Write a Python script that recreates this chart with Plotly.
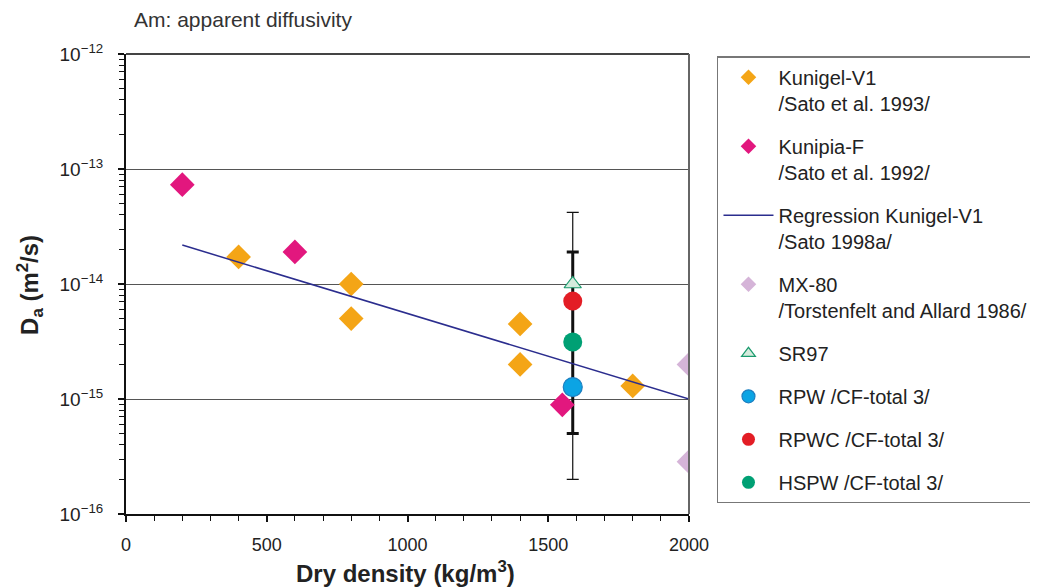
import plotly.graph_objects as go

# ---- data ----
kunigel_x = [400, 800, 800, 1400, 1400, 1800]
kunigel_y = [1.72e-14, 1.0e-14, 5.0e-15, 4.5e-15, 2.0e-15, 1.3e-15]

kunipia_x = [200, 600, 1550]
kunipia_y = [7.3e-14, 1.9e-14, 8.9e-16]

regr_x = [200, 2000]
regr_y = [2.18e-14, 1.0e-15]

mx80_x = [2000, 2000]
mx80_y = [2.0e-15, 2.85e-16]

sr97_x = [1587]
sr97_y = [1.0e-14]
rpw_y = [1.27e-15]
rpwc_y = [7.1e-15]
hspw_y = [3.13e-15]

# error ranges at the SR97 density
outer_hi = [4.2e-14]
outer_lo = [2.0e-16]
inner_hi = [1.9e-14]
inner_lo = [5.0e-16]

ytick_vals = [1e-16, 1e-15, 1e-14, 1e-13, 1e-12]
ytick_text = ["10<sup>\u221216</sup>", "10<sup>\u221215</sup>", "10<sup>\u221214</sup>",
              "10<sup>\u221213</sup>", "10<sup>\u221212</sup>"]
xtick_vals = [0, 500, 1000, 1500, 2000]

FONT = "Liberation Sans, Arial, sans-serif"

# series: (name, x, y, symbol, plot size, colour, line colour)
series = [
    ("Kunigel-V1<br>/Sato et al. 1993/", kunigel_x, kunigel_y, "diamond", 19, "#F4A516", None),
    ("Kunipia-F<br>/Sato et al. 1992/", kunipia_x, kunipia_y, "diamond", 19, "#E2177E", None),
    ("REGR", regr_x, regr_y, None, None, "#2B2D8E", None),
    ("MX-80<br>/Torstenfelt and Allard 1986/", mx80_x, mx80_y, "diamond", 19, "#D5B4D8", None),
    ("SR97", sr97_x, sr97_y, "triangle-up", 15, "#D5EBDD", "#1B9B6E"),
    ("RPW /CF-total 3/", sr97_x, rpw_y, "circle", 19, "#0BA4E4", "#1E7FC0"),
    ("RPWC /CF-total 3/", sr97_x, rpwc_y, "circle", 19, "#E31D25", None),
    ("HSPW /CF-total 3/", sr97_x, hspw_y, "circle", 19, "#00A074", None),
]

fig = go.Figure()

# error bars (behind markers)
fig.add_trace(go.Scatter(
    x=sr97_x, y=sr97_y, mode="markers", marker=dict(size=1, opacity=0),
    showlegend=False, hoverinfo="skip",
    error_y=dict(type="data", symmetric=False,
                 array=[outer_hi[0] - sr97_y[0]], arrayminus=[sr97_y[0] - outer_lo[0]],
                 color="#111111", thickness=1.2, width=6)))
fig.add_trace(go.Scatter(
    x=sr97_x, y=sr97_y, mode="markers", marker=dict(size=1, opacity=0),
    showlegend=False, hoverinfo="skip",
    error_y=dict(type="data", symmetric=False,
                 array=[inner_hi[0] - sr97_y[0]], arrayminus=[sr97_y[0] - inner_lo[0]],
                 color="#111111", thickness=3, width=6)))

for i, (name, xs, ys, sym, size, col, lcol) in enumerate(series):
    grp = "g%d" % i
    if name == "REGR":
        fig.add_trace(go.Scatter(
            x=xs, y=ys, mode="lines", legendgroup=grp,
            name="Regression Kunigel-V1<br>/Sato 1998a/",
            line=dict(color=col, width=1.5)))
        continue
    mline = dict(color=lcol, width=1.2) if lcol else dict(width=0)
    # plotted marks
    fig.add_trace(go.Scatter(
        x=xs, y=ys, mode="markers", legendgroup=grp, showlegend=False,
        name=name, marker=dict(symbol=sym, size=size, color=col, line=mline)))
    # legend entry with smaller symbol
    fig.add_trace(go.Scatter(
        x=[None], y=[None], mode="markers", legendgroup=grp, showlegend=True,
        name=name, marker=dict(symbol=sym, size=12 if sym != "circle" else 13,
                               color=col, line=mline)))

fig.update_layout(
    width=1022, height=579,
    margin=dict(l=118, r=341, t=46, b=73, autoexpand=False),
    paper_bgcolor="white", plot_bgcolor="white",
    font=dict(family=FONT, color="#222222", size=18),
    showlegend=True,
    legend=dict(x=1.0497, y=0.995, xanchor="left", yanchor="top",
                bordercolor="#777777", borderwidth=1.5, bgcolor="white",
                font=dict(family=FONT, size=20, color="#222222"),
                valign="top", tracegroupgap=14,
                itemwidth=50, traceorder="grouped"),
    xaxis=dict(range=[0, 2000], tickvals=xtick_vals, ticks="outside", ticklen=6,
               tickcolor="#111111", tickwidth=1.5,
               showline=True, linecolor="#111111", linewidth=2,
               showgrid=False, zeroline=False, ticklabelstandoff=7,
               tickfont=dict(size=18, color="#222222"),
               minor=dict(dtick=100, ticks="outside", ticklen=5,
                          tickcolor="#111111", tickwidth=1.2)),
    yaxis=dict(type="log", range=[-16, -12], tickvals=ytick_vals, ticktext=ytick_text,
               ticks="outside", ticklen=6, tickcolor="#111111", tickwidth=1.5,
               showline=True, linecolor="#111111", linewidth=2,
               showgrid=True, gridcolor="#555555", gridwidth=1.3,
               zeroline=False, ticklabelstandoff=11,
               tickfont=dict(size=19, color="#222222"),
               minor=dict(dtick="D1", ticks="outside", ticklen=5,
                          tickcolor="#111111", tickwidth=1.2, showgrid=False)),
    shapes=[
        dict(type="line", xref="paper", yref="paper", x0=0, x1=1, y0=1, y1=1,
             line=dict(color="#444444", width=2)),
        dict(type="line", xref="paper", yref="paper", x0=1, x1=1, y0=0, y1=1,
             line=dict(color="#666666", width=2)),
    ],
    annotations=[
        dict(text="Am: apparent diffusivity", xref="paper", yref="paper",
             x=0.0107, y=1.074, xanchor="left", yanchor="middle", showarrow=False,
             font=dict(family=FONT, size=21, color="#333333")),
        dict(text="<b>Dry density (kg/m<sup>3</sup>)</b>", xref="paper", yref="paper",
             x=0.4973, y=-0.126, xanchor="center", yanchor="middle", showarrow=False,
             font=dict(family=FONT, size=24, color="#222222")),
        dict(text="<b>D<sub>a</sub> (m<sup>2</sup>/s)</b>", xref="paper", yref="paper",
             x=-0.1705, y=0.498, xanchor="center", yanchor="middle", showarrow=False,
             textangle=-90, font=dict(family=FONT, size=24, color="#222222")),
    ],
)

fig.write_html("out.html")
